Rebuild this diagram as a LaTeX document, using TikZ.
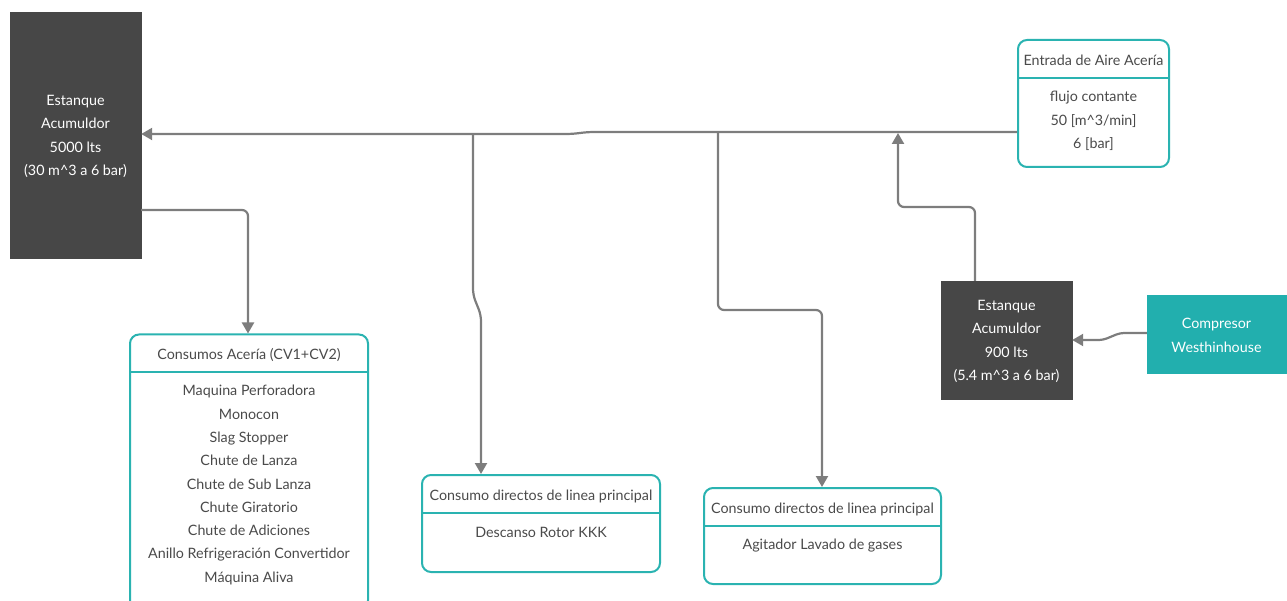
\documentclass[tikz,border=0pt]{standalone}
\usepackage{fontspec}
\setmainfont{Lato}
\usetikzlibrary{arrows.meta}
\definecolor{tankgray}{HTML}{474747}
\definecolor{tealc}{HTML}{2AB3B1}
\definecolor{compfill}{HTML}{22AFAE}
\definecolor{linegray}{HTML}{7D7D7D}
\definecolor{txtgray}{HTML}{4A4A4A}
\tikzset{
  tank/.style={fill=tankgray, draw=tankgray, text=white, align=center, inner sep=0pt, font=\fontsize{14.3}{23.3}\selectfont},
  comp/.style={fill=compfill, draw=compfill, text=white, align=center, inner sep=0pt, font=\fontsize{14.3}{24}\selectfont},
  cbox/.style={draw=tealc, line width=2pt, rounded corners=9pt, fill=white, inner sep=0pt},
  sepline/.style={draw=tealc, line width=2pt},
  txt/.style={text=txtgray, align=center, inner sep=0pt, font=\fontsize{14.3}{23.3}\selectfont},
  pipe/.style={draw=linegray, line width=2.2pt, rounded corners=6pt},
  arr/.style={pipe, -{Triangle[length=11pt,width=12pt]}},
}
\begin{document}
\begin{tikzpicture}[x=1pt,y=-1pt]
\useasboundingbox (0,0) rectangle (1287,601);
% tanks and compressor
\node[tank, minimum width=131pt, minimum height=246pt] (tankA) at (75.5,135) {};
\node[tank] (tankAt) at (75.5,136.5) {Estanque\\Acumuldor\\5000 lts\\(30 m\^{}3 a 6 bar)};
\node[tank, minimum width=131pt, minimum height=118pt] (tankB) at (1006.5,340) {};
\node[tank] (tankBt) at (1006.5,341.5) {Estanque\\Acumuldor\\900 lts\\(5.4 m\^{}3 a 6 bar)};
\node[comp, minimum width=139pt, minimum height=78pt] (comp) at (1216.5,334) {};
\node[comp] (compt) at (1216.5,335) {Compresor\\Westhinhouse};
% Entrada box
\node[cbox, minimum width=151pt, minimum height=127pt] (ent) at (1093.5,103.5) {};
\draw[sepline] (ent.west |- 0,78) -- (ent.east |- 0,78);
\node[txt] (entH) at (1093.5,60) {Entrada de Aire Acería};
\node[txt] (entB) at (1093.5,121) {flujo contante\\50 [m\^{}3/min]\\6 [bar]};
% Consumos box
\node[cbox, minimum width=238pt, minimum height=275pt] (cons) at (249,472) {};
\draw[sepline] (cons.west |- 0,372) -- (cons.east |- 0,372);
\node[txt] (consH) at (249,355) {Consumos Acería (CV1+CV2)};
\node[txt] (consB) at (249,485) {Maquina Perforadora\\Monocon\\Slag Stopper\\Chute de Lanza\\Chute de Sub Lanza\\Chute Giratorio\\Chute de Adiciones\\Anillo Refrigeración Convertidor\\Máquina Aliva};
% KKK box
\node[cbox, minimum width=238pt, minimum height=97pt] (kkk) at (541,523.5) {};
\draw[sepline] (kkk.west |- 0,513) -- (kkk.east |- 0,513);
\node[txt] (kkkH) at (541,496) {Consumo directos de linea principal};
\node[txt] (kkkB) at (541,532) {Descanso Rotor KKK};
% Agitador box
\node[cbox, minimum width=237pt, minimum height=96pt] (agi) at (822.5,536) {};
\draw[sepline] (agi.west |- 0,526) -- (agi.east |- 0,526);
\node[txt] (agiH) at (822.5,509) {Consumo directos de linea principal};
\node[txt] (agiB) at (822.5,546) {Agitador Lavado de gases};
% connectors
\coordinate (j1) at (473,134);
\coordinate (j2) at (718,133);
\coordinate (j3) at (898,133);
\draw[arr] (ent.west |- 0,132) -- (588,132) -- (572,134) -- (tankA.east |- 0,134);
\draw[pipe] (j1) -- (473,295) -- (481,315) -- (481,466);
\draw[arr, rounded corners=0pt] (481,460) -- (kkk.north -| 481,0);
\draw[arr] (j2) -- (718,310) -- (822,310) -- (agi.north -| 822,0);
\draw[arr] (tankB.north -| 975,0) -- (975,207) -- (898,207) -- (j3);
\draw[arr] (tankA.east |- 0,210) -- (248,210) -- (cons.north -| 248,0);
\draw[arr, rounded corners=4pt] (comp.west |- 0,333) -- (1120,333) -- (1103,340) -- (tankB.east |- 0,340);
\end{tikzpicture}
\end{document}
